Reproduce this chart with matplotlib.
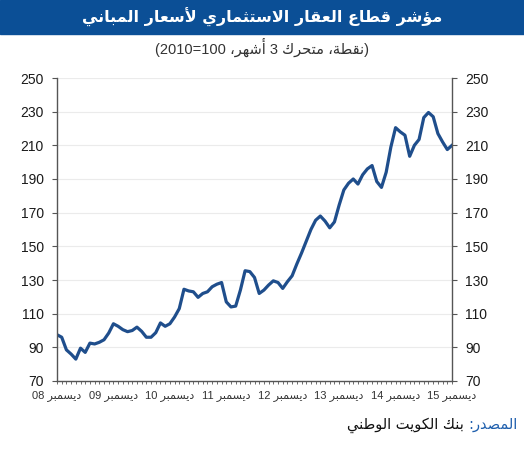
import unicodedata
import numpy as np
import matplotlib
matplotlib.use("Agg")
from matplotlib import pyplot as plt
from matplotlib.ticker import MultipleLocator

TITLE = "مؤشر قطاع العقار الاستثماري لأسعار المباني"
SUBTITLE = "(نقطة، متحرك 3 أشهر، 100=2010)"
SOURCE_LABEL = "المصدر:"
SOURCE_TEXT = "بنك الكويت الوطني"
MONTH_WORD = "ديسمبر"
YEAR_LABELS = ["08", "09", "10", "11", "12", "13", "14", "15"]
Y_TICKS = [70, 90, 110, 130, 150, 170, 190, 210, 230, 250]

# monthly values, Dec 2008 .. Dec 2015
index_values = [
    97.5, 96, 88.5, 86, 83, 89.5, 87, 92.5, 92, 93, 94.5, 98.5,
    104, 102.5, 100.5, 99.3, 100, 102, 99.5, 96, 96, 98.7, 104.5, 102.5,
    104, 108, 113, 124.5, 123.5, 123, 119.7, 122, 123, 126, 127.5, 128.5,
    117, 114, 114.5, 124, 135.5, 135, 131.5, 122, 124, 127, 129.5, 128.5,
    125, 129, 132.5, 139.5, 146, 153, 160, 165.5, 168, 165, 161, 164.5,
    174.5, 183.5, 187.5, 190, 187, 192.5, 196, 198, 188.5, 185, 194, 209,
    220.5, 218, 216, 203.5, 210, 213.5, 226.5, 229.5, 227, 217, 212, 207.5,
    210,
]

BLUE_BAR = "#0b4f96"
LINE_BLUE = "#1f4e8c"
NUM_FONT = ["Liberation Sans", "DejaVu Sans"]


def get_forms(ch):
    name = unicodedata.name(ch, "")
    res = {}
    if not name.startswith("ARABIC LETTER"):
        return res
    for f in ["ISOLATED", "FINAL", "INITIAL", "MEDIAL"]:
        try:
            res[f] = unicodedata.lookup(name + " " + f + " FORM")
        except KeyError:
            pass
    return res


def joins_next(ch):
    return "INITIAL" in get_forms(ch)


def joins_prev(ch):
    return "FINAL" in get_forms(ch)


def shape(text):
    # join arabic letters, then put them in visual (right to left) order
    out = []
    i = 0
    n = len(text)
    while i < n:
        ch = text[i]
        f = get_forms(ch)
        if not f:
            out.append(ch)
            i += 1
            continue
        prev = text[i - 1] if i > 0 else ""
        jp = prev != "" and joins_next(prev) and "FINAL" in f
        if ch == "ل" and i + 1 < n and text[i + 1] in "اأإآ":
            alef = unicodedata.name(text[i + 1])[len("ARABIC LETTER "):]
            form = "FINAL" if jp else "ISOLATED"
            out.append(unicodedata.lookup("ARABIC LIGATURE LAM WITH " + alef + " " + form + " FORM"))
            i += 2
            continue
        jn = i + 1 < n and "INITIAL" in f and joins_prev(text[i + 1])
        if jp and jn:
            out.append(f["MEDIAL"])
        elif jp:
            out.append(f["FINAL"])
        elif jn:
            out.append(f["INITIAL"])
        else:
            out.append(f["ISOLATED"])
        i += 1
    s = "".join(out)[::-1]
    # digits keep left to right order
    res = []
    run = ""
    for ch in s:
        if ch.isdigit():
            run += ch
        else:
            res.append(run[::-1])
            run = ""
            res.append({"(": ")", ")": "("}.get(ch, ch))
    res.append(run[::-1])
    return "".join(res)


fig = plt.figure(figsize=(5.24, 4.5), dpi=100)
W, H = 524, 450

# title bar
fig.patches.append(plt.Rectangle((0, 1 - 34 / H), 1, 34 / H, transform=fig.transFigure,
                                 color=BLUE_BAR, zorder=0))
fig.text(0.5, 1 - 17 / H, shape(TITLE), color="white", fontsize=11.5, fontweight="bold",
         ha="center", va="center", family=["DejaVu Sans"])
fig.text(0.5, 1 - 47 / H, shape(SUBTITLE), color="#333333", fontsize=10.5,
         ha="center", va="center", family=NUM_FONT)

ax = fig.add_axes([57 / W, 1 - 381 / H, (452 - 57) / W, (381 - 78) / H])
months = np.arange(len(index_values))
ax.plot(months, index_values, color=LINE_BLUE, lw=2.3, solid_joinstyle="round")

ax.set_xlim(0, len(index_values) - 1)
ax.set_ylim(70, 250)
ax.set_yticks(Y_TICKS)
ax.set_yticklabels([str(v) for v in Y_TICKS], family=NUM_FONT, fontsize=10, color="#1a1a1a")
ax.yaxis.grid(True, color="#ebebeb", lw=0.8)
ax.set_axisbelow(True)

ax.set_xticks(months[::12])
ax.set_xticklabels([shape(MONTH_WORD + " " + y) for y in YEAR_LABELS],
                   family=NUM_FONT, fontsize=8, color="#333333")
ax.xaxis.set_minor_locator(MultipleLocator(1))

ax.tick_params(axis="y", left=True, right=True, labelleft=True, labelright=True,
               length=3.5, width=0.8, color="#555555", pad=6)
ax.tick_params(axis="x", which="both", direction="out", length=2.5, width=0.6,
               color="#555555", pad=4)

for side in ["left", "right", "bottom"]:
    ax.spines[side].set_color("#555555")
    ax.spines[side].set_linewidth(1.0)
ax.spines["top"].set_visible(False)

# source line
src_blue = fig.text(517 / W, 1 - 425 / H, shape(SOURCE_LABEL), color="#1f5fad",
                    fontsize=10.5, ha="right", va="center", family=["DejaVu Sans"])
renderer = fig.canvas.get_renderer()
bb = src_blue.get_window_extent(renderer)
fig.text((bb.x0 - 4) / W, 1 - 425 / H, shape(SOURCE_TEXT), color="#111111",
         fontsize=10.5, ha="right", va="center", family=["DejaVu Sans"])

fig.savefig("out.png", dpi=100)
